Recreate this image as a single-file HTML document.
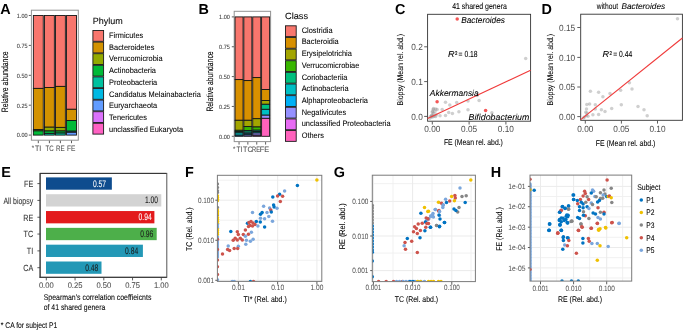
<!DOCTYPE html>
<html><head><meta charset="utf-8"><style>
html,body{margin:0;padding:0;background:#fff;}
body{width:685px;height:331px;overflow:hidden;}
svg{display:block;font-family:"Liberation Sans",sans-serif;will-change:transform;text-rendering:geometricPrecision;}
</style></head><body>
<svg width="685" height="331" viewBox="0 0 685 331">
<rect width="685" height="331" fill="#fff"/>
<text x="0.20" y="13.80" font-size="14.40" fill="#000" font-weight="bold" textLength="10.40" lengthAdjust="spacingAndGlyphs" >A</text>
<text x="198.60" y="14.00" font-size="14.40" fill="#000" font-weight="bold" textLength="10.40" lengthAdjust="spacingAndGlyphs" >B</text>
<text x="395.00" y="14.10" font-size="14.40" fill="#000" font-weight="bold" textLength="10.40" lengthAdjust="spacingAndGlyphs" >C</text>
<text x="541.60" y="13.80" font-size="14.40" fill="#000" font-weight="bold" textLength="10.40" lengthAdjust="spacingAndGlyphs" >D</text>
<text x="1.30" y="176.90" font-size="14.40" fill="#000" font-weight="bold" textLength="9.61" lengthAdjust="spacingAndGlyphs" >E</text>
<text x="185.10" y="176.90" font-size="14.40" fill="#000" font-weight="bold" textLength="8.80" lengthAdjust="spacingAndGlyphs" >F</text>
<text x="333.80" y="176.90" font-size="14.40" fill="#000" font-weight="bold" textLength="11.20" lengthAdjust="spacingAndGlyphs" >G</text>
<text x="490.70" y="176.90" font-size="14.40" fill="#000" font-weight="bold" textLength="10.40" lengthAdjust="spacingAndGlyphs" >H</text>
<rect x="31.40" y="10.20" width="46.90" height="130.00" fill="none" stroke="#929292" stroke-width="1.0" />
<line x1="28.80" y1="135.10" x2="30.90" y2="135.10" stroke="#333" stroke-width="0.8" />
<text x="27.50" y="137.40" font-size="6.16" fill="#404040" stroke="#404040" stroke-width="0.1" text-anchor="end" textLength="10.70" lengthAdjust="spacingAndGlyphs" >0.00</text>
<line x1="28.80" y1="105.20" x2="30.90" y2="105.20" stroke="#333" stroke-width="0.8" />
<text x="27.50" y="107.50" font-size="6.16" fill="#404040" stroke="#404040" stroke-width="0.1" text-anchor="end" textLength="10.70" lengthAdjust="spacingAndGlyphs" >0.25</text>
<line x1="28.80" y1="75.30" x2="30.90" y2="75.30" stroke="#333" stroke-width="0.8" />
<text x="27.50" y="77.60" font-size="6.16" fill="#404040" stroke="#404040" stroke-width="0.1" text-anchor="end" textLength="10.70" lengthAdjust="spacingAndGlyphs" >0.50</text>
<line x1="28.80" y1="45.40" x2="30.90" y2="45.40" stroke="#333" stroke-width="0.8" />
<text x="27.50" y="47.70" font-size="6.16" fill="#404040" stroke="#404040" stroke-width="0.1" text-anchor="end" textLength="10.70" lengthAdjust="spacingAndGlyphs" >0.75</text>
<line x1="28.80" y1="15.50" x2="30.90" y2="15.50" stroke="#333" stroke-width="0.8" />
<text x="27.50" y="17.80" font-size="6.16" fill="#404040" stroke="#404040" stroke-width="0.1" text-anchor="end" textLength="10.70" lengthAdjust="spacingAndGlyphs" >1.00</text>
<rect x="33.35" y="15.50" width="9.90" height="72.90" fill="#F8766D" stroke="#151515" stroke-width="0.9" />
<rect x="33.35" y="88.40" width="9.90" height="41.20" fill="#D39200" stroke="#151515" stroke-width="0.9" />
<rect x="33.35" y="129.60" width="9.90" height="1.30" fill="#93AA00" stroke="#151515" stroke-width="0.9" />
<rect x="33.35" y="130.90" width="9.90" height="4.20" fill="#00BA38" stroke="#151515" stroke-width="0.9" />
<rect x="44.45" y="15.50" width="9.90" height="72.00" fill="#F8766D" stroke="#151515" stroke-width="0.9" />
<rect x="44.45" y="87.50" width="9.90" height="39.70" fill="#D39200" stroke="#151515" stroke-width="0.9" />
<rect x="44.45" y="127.20" width="9.90" height="3.80" fill="#93AA00" stroke="#151515" stroke-width="0.9" />
<rect x="44.45" y="131.00" width="9.90" height="2.40" fill="#00BA38" stroke="#151515" stroke-width="0.9" />
<rect x="44.45" y="133.40" width="9.90" height="1.70" fill="#00C19F" stroke="#151515" stroke-width="0.9" />
<rect x="55.45" y="15.50" width="9.90" height="70.90" fill="#F8766D" stroke="#151515" stroke-width="0.9" />
<rect x="55.45" y="86.40" width="9.90" height="41.00" fill="#D39200" stroke="#151515" stroke-width="0.9" />
<rect x="55.45" y="127.40" width="9.90" height="3.60" fill="#93AA00" stroke="#151515" stroke-width="0.9" />
<rect x="55.45" y="131.00" width="9.90" height="2.10" fill="#00BA38" stroke="#151515" stroke-width="0.9" />
<rect x="55.45" y="133.10" width="9.90" height="2.00" fill="#00C19F" stroke="#151515" stroke-width="0.9" />
<rect x="66.55" y="15.50" width="9.90" height="93.80" fill="#F8766D" stroke="#151515" stroke-width="0.9" />
<rect x="66.55" y="109.30" width="9.90" height="11.20" fill="#D39200" stroke="#151515" stroke-width="0.9" />
<rect x="66.55" y="120.50" width="9.90" height="10.70" fill="#00BA38" stroke="#151515" stroke-width="0.9" />
<rect x="66.55" y="131.20" width="9.90" height="1.10" fill="#00C19F" stroke="#151515" stroke-width="0.9" />
<rect x="66.55" y="132.30" width="9.90" height="2.80" fill="#619CFF" stroke="#151515" stroke-width="0.9" />
<line x1="38.30" y1="140.70" x2="38.30" y2="143.20" stroke="#333" stroke-width="0.8" />
<line x1="49.40" y1="140.70" x2="49.40" y2="143.20" stroke="#333" stroke-width="0.8" />
<line x1="60.40" y1="140.70" x2="60.40" y2="143.20" stroke="#333" stroke-width="0.8" />
<line x1="71.50" y1="140.70" x2="71.50" y2="143.20" stroke="#333" stroke-width="0.8" />
<text x="31.80" y="150.20" font-size="6.48" fill="#4D4D4D" stroke="#4D4D4D" stroke-width="0.07" textLength="2.33" lengthAdjust="spacingAndGlyphs" >*</text>
<text x="38.20" y="150.50" font-size="7.88" fill="#4D4D4D" stroke="#4D4D4D" stroke-width="0.07" text-anchor="middle" textLength="6.20" lengthAdjust="spacingAndGlyphs" >TI</text>
<text x="49.55" y="150.50" font-size="7.88" fill="#4D4D4D" stroke="#4D4D4D" stroke-width="0.07" text-anchor="middle" textLength="8.10" lengthAdjust="spacingAndGlyphs" >TC</text>
<text x="60.35" y="150.50" font-size="7.88" fill="#4D4D4D" stroke="#4D4D4D" stroke-width="0.07" text-anchor="middle" textLength="8.70" lengthAdjust="spacingAndGlyphs" >RE</text>
<text x="71.20" y="150.50" font-size="7.88" fill="#4D4D4D" stroke="#4D4D4D" stroke-width="0.07" text-anchor="middle" textLength="8.40" lengthAdjust="spacingAndGlyphs" >FE</text>
<text transform="translate(7.50,112.30) rotate(-90)" font-size="9.36" fill="#000" stroke="#000" stroke-width="0.1" textLength="61.00" lengthAdjust="spacingAndGlyphs" >Relative abundance</text>
<text x="92.80" y="23.75" font-size="9.00" fill="#000" stroke="#000" stroke-width="0.07" textLength="30.00" lengthAdjust="spacingAndGlyphs" >Phylum</text>
<rect x="92.90" y="30.50" width="10.70" height="10.80" fill="#F8766D" stroke="#1A1A1A" stroke-width="0.9" />
<text x="109.10" y="38.00" font-size="7.99" fill="#000" stroke="#000" stroke-width="0.07" textLength="34.12" lengthAdjust="spacingAndGlyphs" >Firmicutes</text>
<rect x="92.90" y="42.10" width="10.70" height="10.80" fill="#D39200" stroke="#1A1A1A" stroke-width="0.9" />
<text x="109.10" y="49.72" font-size="7.99" fill="#000" stroke="#000" stroke-width="0.07" textLength="45.25" lengthAdjust="spacingAndGlyphs" >Bacteroidetes</text>
<rect x="92.90" y="53.70" width="10.70" height="10.80" fill="#93AA00" stroke="#1A1A1A" stroke-width="0.9" />
<text x="109.10" y="61.44" font-size="7.99" fill="#000" stroke="#000" stroke-width="0.07" textLength="53.47" lengthAdjust="spacingAndGlyphs" >Verrucomicrobia</text>
<rect x="92.90" y="65.30" width="10.70" height="10.80" fill="#00BA38" stroke="#1A1A1A" stroke-width="0.9" />
<text x="109.10" y="73.16" font-size="7.99" fill="#000" stroke="#000" stroke-width="0.07" textLength="46.89" lengthAdjust="spacingAndGlyphs" >Actinobacteria</text>
<rect x="92.90" y="76.90" width="10.70" height="10.80" fill="#00C19F" stroke="#1A1A1A" stroke-width="0.9" />
<text x="109.10" y="84.88" font-size="7.99" fill="#000" stroke="#000" stroke-width="0.07" textLength="48.13" lengthAdjust="spacingAndGlyphs" >Proteobacteria</text>
<rect x="92.90" y="88.50" width="10.70" height="10.80" fill="#00B9E3" stroke="#1A1A1A" stroke-width="0.9" />
<text x="109.10" y="96.60" font-size="7.99" fill="#000" stroke="#000" stroke-width="0.07" textLength="91.74" lengthAdjust="spacingAndGlyphs" >Candidatus Melainabacteria</text>
<rect x="92.90" y="100.10" width="10.70" height="10.80" fill="#619CFF" stroke="#1A1A1A" stroke-width="0.9" />
<text x="109.10" y="108.32" font-size="7.99" fill="#000" stroke="#000" stroke-width="0.07" textLength="48.13" lengthAdjust="spacingAndGlyphs" >Euryarchaeota</text>
<rect x="92.90" y="111.70" width="10.70" height="10.80" fill="#DB72FB" stroke="#1A1A1A" stroke-width="0.9" />
<text x="109.10" y="120.04" font-size="7.99" fill="#000" stroke="#000" stroke-width="0.07" textLength="37.84" lengthAdjust="spacingAndGlyphs" >Tenericutes</text>
<rect x="92.90" y="123.30" width="10.70" height="10.80" fill="#FF61C3" stroke="#1A1A1A" stroke-width="0.9" />
<text x="109.10" y="131.76" font-size="7.99" fill="#000" stroke="#000" stroke-width="0.07" textLength="74.04" lengthAdjust="spacingAndGlyphs" >unclassified Eukaryota</text>
<rect x="234.20" y="11.30" width="36.40" height="130.30" fill="none" stroke="#929292" stroke-width="1.0" />
<line x1="231.80" y1="136.30" x2="233.90" y2="136.30" stroke="#333" stroke-width="0.8" />
<text x="229.80" y="138.60" font-size="6.16" fill="#404040" stroke="#404040" stroke-width="0.1" text-anchor="end" textLength="10.70" lengthAdjust="spacingAndGlyphs" >0.00</text>
<line x1="231.80" y1="106.45" x2="233.90" y2="106.45" stroke="#333" stroke-width="0.8" />
<text x="229.80" y="108.75" font-size="6.16" fill="#404040" stroke="#404040" stroke-width="0.1" text-anchor="end" textLength="10.70" lengthAdjust="spacingAndGlyphs" >0.25</text>
<line x1="231.80" y1="76.60" x2="233.90" y2="76.60" stroke="#333" stroke-width="0.8" />
<text x="229.80" y="78.90" font-size="6.16" fill="#404040" stroke="#404040" stroke-width="0.1" text-anchor="end" textLength="10.70" lengthAdjust="spacingAndGlyphs" >0.50</text>
<line x1="231.80" y1="46.75" x2="233.90" y2="46.75" stroke="#333" stroke-width="0.8" />
<text x="229.80" y="49.05" font-size="6.16" fill="#404040" stroke="#404040" stroke-width="0.1" text-anchor="end" textLength="10.70" lengthAdjust="spacingAndGlyphs" >0.75</text>
<line x1="231.80" y1="16.90" x2="233.90" y2="16.90" stroke="#333" stroke-width="0.8" />
<text x="229.80" y="19.20" font-size="6.16" fill="#404040" stroke="#404040" stroke-width="0.1" text-anchor="end" textLength="10.70" lengthAdjust="spacingAndGlyphs" >1.00</text>
<rect x="235.05" y="16.90" width="8.00" height="62.70" fill="#F8766D" stroke="#151515" stroke-width="0.9" />
<rect x="235.05" y="79.60" width="8.00" height="40.70" fill="#D89000" stroke="#151515" stroke-width="0.9" />
<rect x="235.05" y="120.30" width="8.00" height="10.00" fill="#A3A500" stroke="#151515" stroke-width="0.9" />
<rect x="235.05" y="130.30" width="8.00" height="1.30" fill="#39B600" stroke="#151515" stroke-width="0.9" />
<rect x="235.05" y="131.60" width="8.00" height="1.30" fill="#00BF7D" stroke="#151515" stroke-width="0.9" />
<rect x="235.05" y="132.90" width="8.00" height="2.30" fill="#00BFC4" stroke="#151515" stroke-width="0.9" />
<rect x="235.05" y="135.20" width="8.00" height="1.10" fill="#00B0F6" stroke="#151515" stroke-width="0.9" />
<rect x="243.85" y="16.90" width="8.00" height="63.70" fill="#F8766D" stroke="#151515" stroke-width="0.9" />
<rect x="243.85" y="80.60" width="8.00" height="39.70" fill="#D89000" stroke="#151515" stroke-width="0.9" />
<rect x="243.85" y="120.30" width="8.00" height="6.30" fill="#A3A500" stroke="#151515" stroke-width="0.9" />
<rect x="243.85" y="126.60" width="8.00" height="4.00" fill="#39B600" stroke="#151515" stroke-width="0.9" />
<rect x="243.85" y="130.60" width="8.00" height="1.60" fill="#00BF7D" stroke="#151515" stroke-width="0.9" />
<rect x="243.85" y="132.20" width="8.00" height="1.60" fill="#00BFC4" stroke="#151515" stroke-width="0.9" />
<rect x="243.85" y="133.80" width="8.00" height="1.20" fill="#00B0F6" stroke="#151515" stroke-width="0.9" />
<rect x="243.85" y="135.00" width="8.00" height="1.30" fill="#9590FF" stroke="#151515" stroke-width="0.9" />
<rect x="252.75" y="16.90" width="8.00" height="60.70" fill="#F8766D" stroke="#151515" stroke-width="0.9" />
<rect x="252.75" y="77.60" width="8.00" height="41.10" fill="#D89000" stroke="#151515" stroke-width="0.9" />
<rect x="252.75" y="118.70" width="8.00" height="8.30" fill="#A3A500" stroke="#151515" stroke-width="0.9" />
<rect x="252.75" y="127.00" width="8.00" height="3.20" fill="#39B600" stroke="#151515" stroke-width="0.9" />
<rect x="252.75" y="130.20" width="8.00" height="1.40" fill="#00BF7D" stroke="#151515" stroke-width="0.9" />
<rect x="252.75" y="131.60" width="8.00" height="1.40" fill="#00BFC4" stroke="#151515" stroke-width="0.9" />
<rect x="252.75" y="133.00" width="8.00" height="2.20" fill="#9590FF" stroke="#151515" stroke-width="0.9" />
<rect x="252.75" y="135.20" width="8.00" height="1.10" fill="#E76BF3" stroke="#151515" stroke-width="0.9" />
<rect x="261.60" y="16.90" width="8.00" height="72.60" fill="#F8766D" stroke="#151515" stroke-width="0.9" />
<rect x="261.60" y="89.50" width="8.00" height="11.00" fill="#D89000" stroke="#151515" stroke-width="0.9" />
<rect x="261.60" y="100.50" width="8.00" height="3.80" fill="#A3A500" stroke="#151515" stroke-width="0.9" />
<rect x="261.60" y="104.30" width="8.00" height="5.05" fill="#00BF7D" stroke="#151515" stroke-width="0.9" />
<rect x="261.60" y="109.35" width="8.00" height="5.85" fill="#00BFC4" stroke="#151515" stroke-width="0.9" />
<rect x="261.60" y="115.20" width="8.00" height="3.15" fill="#9590FF" stroke="#151515" stroke-width="0.9" />
<rect x="261.60" y="118.35" width="8.00" height="17.95" fill="#FF62BC" stroke="#151515" stroke-width="0.9" />
<line x1="239.05" y1="142.10" x2="239.05" y2="144.60" stroke="#333" stroke-width="0.8" />
<line x1="247.85" y1="142.10" x2="247.85" y2="144.60" stroke="#333" stroke-width="0.8" />
<line x1="256.75" y1="142.10" x2="256.75" y2="144.60" stroke="#333" stroke-width="0.8" />
<line x1="265.60" y1="142.10" x2="265.60" y2="144.60" stroke="#333" stroke-width="0.8" />
<text x="233.00" y="150.60" font-size="6.48" fill="#4D4D4D" stroke="#4D4D4D" stroke-width="0.07" textLength="2.33" lengthAdjust="spacingAndGlyphs" >*</text>
<text x="239.50" y="151.50" font-size="7.88" fill="#4D4D4D" stroke="#4D4D4D" stroke-width="0.07" text-anchor="middle" textLength="5.80" lengthAdjust="spacingAndGlyphs" >TI</text>
<text x="247.80" y="151.50" font-size="7.88" fill="#4D4D4D" stroke="#4D4D4D" stroke-width="0.07" text-anchor="middle" textLength="9.40" lengthAdjust="spacingAndGlyphs" >TC</text>
<text x="256.10" y="151.50" font-size="7.88" fill="#4D4D4D" stroke="#4D4D4D" stroke-width="0.07" text-anchor="middle" textLength="8.00" lengthAdjust="spacingAndGlyphs" >RE</text>
<text x="264.40" y="151.50" font-size="7.88" fill="#4D4D4D" stroke="#4D4D4D" stroke-width="0.07" text-anchor="middle" textLength="9.40" lengthAdjust="spacingAndGlyphs" >FE</text>
<text transform="translate(213.20,111.60) rotate(-90)" font-size="9.36" fill="#000" stroke="#000" stroke-width="0.1" textLength="60.20" lengthAdjust="spacingAndGlyphs" >Relative abundance</text>
<text x="285.00" y="19.00" font-size="9.00" fill="#000" stroke="#000" stroke-width="0.07" textLength="23.10" lengthAdjust="spacingAndGlyphs" >Class</text>
<rect x="285.50" y="25.80" width="10.70" height="10.80" fill="#F8766D" stroke="#1A1A1A" stroke-width="0.9" />
<text x="301.70" y="32.70" font-size="7.99" fill="#000" stroke="#000" stroke-width="0.07" textLength="30.84" lengthAdjust="spacingAndGlyphs" >Clostridia</text>
<rect x="285.50" y="37.44" width="10.70" height="10.80" fill="#D89000" stroke="#1A1A1A" stroke-width="0.9" />
<text x="301.70" y="44.41" font-size="7.99" fill="#000" stroke="#000" stroke-width="0.07" textLength="37.02" lengthAdjust="spacingAndGlyphs" >Bacteroidia</text>
<rect x="285.50" y="49.08" width="10.70" height="10.80" fill="#A3A500" stroke="#1A1A1A" stroke-width="0.9" />
<text x="301.70" y="56.12" font-size="7.99" fill="#000" stroke="#000" stroke-width="0.07" textLength="50.18" lengthAdjust="spacingAndGlyphs" >Erysipelotrichia</text>
<rect x="285.50" y="60.72" width="10.70" height="10.80" fill="#39B600" stroke="#1A1A1A" stroke-width="0.9" />
<text x="301.70" y="67.83" font-size="7.99" fill="#000" stroke="#000" stroke-width="0.07" textLength="57.58" lengthAdjust="spacingAndGlyphs" >Verrucomicrobiae</text>
<rect x="285.50" y="72.36" width="10.70" height="10.80" fill="#00BF7D" stroke="#1A1A1A" stroke-width="0.9" />
<text x="301.70" y="79.54" font-size="7.99" fill="#000" stroke="#000" stroke-width="0.07" textLength="45.66" lengthAdjust="spacingAndGlyphs" >Coriobacteriia</text>
<rect x="285.50" y="84.00" width="10.70" height="10.80" fill="#00BFC4" stroke="#1A1A1A" stroke-width="0.9" />
<text x="301.70" y="91.25" font-size="7.99" fill="#000" stroke="#000" stroke-width="0.07" textLength="46.89" lengthAdjust="spacingAndGlyphs" >Actinobacteria</text>
<rect x="285.50" y="95.64" width="10.70" height="10.80" fill="#00B0F6" stroke="#1A1A1A" stroke-width="0.9" />
<text x="301.70" y="102.96" font-size="7.99" fill="#000" stroke="#000" stroke-width="0.07" textLength="66.24" lengthAdjust="spacingAndGlyphs" >Alphaproteobacteria</text>
<rect x="285.50" y="107.28" width="10.70" height="10.80" fill="#9590FF" stroke="#1A1A1A" stroke-width="0.9" />
<text x="301.70" y="114.67" font-size="7.99" fill="#000" stroke="#000" stroke-width="0.07" textLength="44.42" lengthAdjust="spacingAndGlyphs" >Negativicutes</text>
<rect x="285.50" y="118.92" width="10.70" height="10.80" fill="#E76BF3" stroke="#1A1A1A" stroke-width="0.9" />
<text x="301.70" y="126.38" font-size="7.99" fill="#000" stroke="#000" stroke-width="0.07" textLength="88.85" lengthAdjust="spacingAndGlyphs" >unclassified Proteobacteria</text>
<rect x="285.50" y="130.56" width="10.70" height="10.80" fill="#FF62BC" stroke="#1A1A1A" stroke-width="0.9" />
<text x="301.70" y="138.09" font-size="7.99" fill="#000" stroke="#000" stroke-width="0.07" textLength="22.21" lengthAdjust="spacingAndGlyphs" >Others</text>
<rect x="427.60" y="14.30" width="103.00" height="106.90" fill="none" stroke="#333" stroke-width="0.9" />
<line x1="424.20" y1="116.40" x2="427.20" y2="116.40" stroke="#333" stroke-width="0.8" />
<text x="422.80" y="119.70" font-size="8.96" fill="#4D4D4D" text-anchor="end" textLength="11.54" lengthAdjust="spacingAndGlyphs" >0.0</text>
<line x1="424.20" y1="81.60" x2="427.20" y2="81.60" stroke="#333" stroke-width="0.8" />
<text x="422.80" y="84.90" font-size="8.96" fill="#4D4D4D" text-anchor="end" textLength="11.54" lengthAdjust="spacingAndGlyphs" >0.1</text>
<line x1="424.20" y1="46.80" x2="427.20" y2="46.80" stroke="#333" stroke-width="0.8" />
<text x="422.80" y="50.10" font-size="8.96" fill="#4D4D4D" text-anchor="end" textLength="11.54" lengthAdjust="spacingAndGlyphs" >0.2</text>
<line x1="432.30" y1="121.70" x2="432.30" y2="124.50" stroke="#333" stroke-width="0.8" />
<text x="432.30" y="132.30" font-size="8.96" fill="#4D4D4D" text-anchor="middle" textLength="16.15" lengthAdjust="spacingAndGlyphs" >0.00</text>
<line x1="469.10" y1="121.70" x2="469.10" y2="124.50" stroke="#333" stroke-width="0.8" />
<text x="469.10" y="132.30" font-size="8.96" fill="#4D4D4D" text-anchor="middle" textLength="16.15" lengthAdjust="spacingAndGlyphs" >0.05</text>
<line x1="505.90" y1="121.70" x2="505.90" y2="124.50" stroke="#333" stroke-width="0.8" />
<text x="505.90" y="132.30" font-size="8.96" fill="#4D4D4D" text-anchor="middle" textLength="16.15" lengthAdjust="spacingAndGlyphs" >0.10</text>
<text x="479.50" y="8.60" font-size="8.51" fill="#000" stroke="#000" stroke-width="0.07" text-anchor="middle" textLength="54.70" lengthAdjust="spacingAndGlyphs" >41 shared genera</text>
<text x="443.90" y="145.30" font-size="8.36" fill="#000" stroke="#000" stroke-width="0.07" textLength="59.00" lengthAdjust="spacingAndGlyphs" >FE (Mean rel. abd.)</text>
<text transform="translate(403.40,105.40) rotate(-90)" font-size="8.36" fill="#000" stroke="#000" stroke-width="0.07" textLength="71.40" lengthAdjust="spacingAndGlyphs" >Biopsy (Mean rel. abd.)</text>
<circle cx="433.50" cy="108.50" r="1.75" fill="rgba(140,140,140,0.42)" />
<circle cx="432.50" cy="111.20" r="1.75" fill="rgba(140,140,140,0.42)" />
<circle cx="431.60" cy="115.60" r="1.75" fill="rgba(140,140,140,0.42)" />
<circle cx="435.60" cy="116.60" r="1.75" fill="rgba(140,140,140,0.42)" />
<circle cx="429.80" cy="118.20" r="1.75" fill="rgba(140,140,140,0.42)" />
<circle cx="445.50" cy="102.30" r="1.75" fill="rgba(140,140,140,0.42)" />
<circle cx="449.80" cy="104.90" r="1.75" fill="rgba(140,140,140,0.42)" />
<circle cx="456.70" cy="102.50" r="1.75" fill="rgba(140,140,140,0.42)" />
<circle cx="458.90" cy="111.80" r="1.75" fill="rgba(140,140,140,0.42)" />
<circle cx="448.70" cy="112.50" r="1.75" fill="rgba(140,140,140,0.42)" />
<circle cx="452.40" cy="113.60" r="1.75" fill="rgba(140,140,140,0.42)" />
<circle cx="445.50" cy="115.40" r="1.75" fill="rgba(140,140,140,0.42)" />
<circle cx="440.00" cy="115.80" r="1.75" fill="rgba(140,140,140,0.42)" />
<circle cx="442.20" cy="109.60" r="1.75" fill="rgba(140,140,140,0.42)" />
<circle cx="433.20" cy="109.60" r="1.75" fill="rgba(140,140,140,0.42)" />
<circle cx="435.70" cy="108.90" r="1.75" fill="rgba(140,140,140,0.42)" />
<circle cx="437.10" cy="109.60" r="1.75" fill="rgba(140,140,140,0.42)" />
<circle cx="432.40" cy="112.50" r="1.75" fill="rgba(140,140,140,0.42)" />
<circle cx="432.10" cy="115.40" r="1.75" fill="rgba(140,140,140,0.42)" />
<circle cx="434.20" cy="116.10" r="1.75" fill="rgba(140,140,140,0.42)" />
<circle cx="436.40" cy="114.70" r="1.75" fill="rgba(140,140,140,0.42)" />
<circle cx="433.50" cy="113.50" r="1.75" fill="rgba(140,140,140,0.42)" />
<circle cx="435.00" cy="111.50" r="1.75" fill="rgba(140,140,140,0.42)" />
<circle cx="431.80" cy="117.00" r="1.75" fill="rgba(140,140,140,0.42)" />
<circle cx="430.50" cy="116.50" r="1.75" fill="rgba(140,140,140,0.42)" />
<circle cx="433.00" cy="116.80" r="1.75" fill="rgba(140,140,140,0.42)" />
<circle cx="468.00" cy="101.10" r="1.75" fill="rgba(140,140,140,0.42)" />
<circle cx="468.00" cy="109.80" r="1.75" fill="rgba(140,140,140,0.42)" />
<circle cx="477.10" cy="95.50" r="1.75" fill="rgba(140,140,140,0.42)" />
<circle cx="479.10" cy="100.50" r="1.75" fill="rgba(140,140,140,0.42)" />
<circle cx="491.90" cy="112.70" r="1.75" fill="rgba(140,140,140,0.42)" />
<circle cx="525.70" cy="58.60" r="1.75" fill="rgba(140,140,140,0.42)" />
<line x1="427.60" y1="118.60" x2="530.60" y2="70.20" stroke="#F03A3A" stroke-width="1.1" />
<circle cx="437.10" cy="101.80" r="1.75" fill="#F45656" />
<circle cx="485.60" cy="110.60" r="1.75" fill="#F45656" />
<circle cx="457.20" cy="19.00" r="1.75" fill="#F45656" />
<text x="461.20" y="22.60" font-size="8.64" fill="#000" stroke="#000" stroke-width="0.07" font-style="italic" textLength="43.80" lengthAdjust="spacingAndGlyphs" >Bacteroides</text>
<text x="429.80" y="96.40" font-size="8.64" fill="#000" stroke="#000" stroke-width="0.07" font-style="italic" textLength="48.90" lengthAdjust="spacingAndGlyphs" >Akkermansia</text>
<text x="468.50" y="119.60" font-size="8.64" fill="#000" stroke="#000" stroke-width="0.07" font-style="italic" textLength="60.90" lengthAdjust="spacingAndGlyphs" >Bifidobacterium</text>
<text x="448.00" y="57.00" font-size="8.74" fill="#000" stroke="#000" stroke-width="0.07" font-style="italic" textLength="6.60" lengthAdjust="spacingAndGlyphs" >R</text>
<text x="454.90" y="54.80" font-size="5.28" fill="#000" stroke="#000" stroke-width="0.15" textLength="2.40" lengthAdjust="spacingAndGlyphs" >2</text>
<text x="458.60" y="57.00" font-size="8.74" fill="#000" stroke="#000" stroke-width="0.07" textLength="19.00" lengthAdjust="spacingAndGlyphs" >= 0.18</text>
<rect x="580.70" y="14.20" width="101.70" height="106.10" fill="none" stroke="#333" stroke-width="0.9" />
<line x1="577.30" y1="116.60" x2="580.30" y2="116.60" stroke="#333" stroke-width="0.8" />
<text x="575.20" y="120.00" font-size="8.96" fill="#4D4D4D" text-anchor="end" textLength="16.15" lengthAdjust="spacingAndGlyphs" >0.00</text>
<line x1="577.30" y1="87.00" x2="580.30" y2="87.00" stroke="#333" stroke-width="0.8" />
<text x="575.20" y="90.40" font-size="8.96" fill="#4D4D4D" text-anchor="end" textLength="16.15" lengthAdjust="spacingAndGlyphs" >0.05</text>
<line x1="577.30" y1="57.40" x2="580.30" y2="57.40" stroke="#333" stroke-width="0.8" />
<text x="575.20" y="60.80" font-size="8.96" fill="#4D4D4D" text-anchor="end" textLength="16.15" lengthAdjust="spacingAndGlyphs" >0.10</text>
<line x1="577.30" y1="27.50" x2="580.30" y2="27.50" stroke="#333" stroke-width="0.8" />
<text x="575.20" y="30.90" font-size="8.96" fill="#4D4D4D" text-anchor="end" textLength="16.15" lengthAdjust="spacingAndGlyphs" >0.15</text>
<line x1="585.30" y1="120.70" x2="585.30" y2="123.60" stroke="#333" stroke-width="0.8" />
<text x="585.30" y="131.70" font-size="8.96" fill="#4D4D4D" text-anchor="middle" textLength="16.15" lengthAdjust="spacingAndGlyphs" >0.00</text>
<line x1="621.40" y1="120.70" x2="621.40" y2="123.60" stroke="#333" stroke-width="0.8" />
<text x="621.40" y="131.70" font-size="8.96" fill="#4D4D4D" text-anchor="middle" textLength="16.15" lengthAdjust="spacingAndGlyphs" >0.05</text>
<line x1="657.50" y1="120.70" x2="657.50" y2="123.60" stroke="#333" stroke-width="0.8" />
<text x="657.50" y="131.70" font-size="8.96" fill="#4D4D4D" text-anchor="middle" textLength="16.15" lengthAdjust="spacingAndGlyphs" >0.10</text>
<text x="596.80" y="8.60" font-size="8.51" fill="#000" stroke="#000" stroke-width="0.07" textLength="21.20" lengthAdjust="spacingAndGlyphs" >without</text>
<text x="621.40" y="8.60" font-size="8.29" fill="#000" stroke="#000" stroke-width="0.07" font-style="italic" textLength="43.80" lengthAdjust="spacingAndGlyphs" >Bacteroides</text>
<text x="595.80" y="145.60" font-size="8.36" fill="#000" stroke="#000" stroke-width="0.07" textLength="59.60" lengthAdjust="spacingAndGlyphs" >FE (Mean rel. abd.)</text>
<text transform="translate(552.60,105.40) rotate(-90)" font-size="8.36" fill="#000" stroke="#000" stroke-width="0.07" textLength="71.40" lengthAdjust="spacingAndGlyphs" >Biopsy (Mean rel. abd.)</text>
<circle cx="590.40" cy="91.30" r="1.75" fill="rgba(140,140,140,0.42)" />
<circle cx="598.60" cy="92.30" r="1.75" fill="rgba(140,140,140,0.42)" />
<circle cx="602.90" cy="96.70" r="1.75" fill="rgba(140,140,140,0.42)" />
<circle cx="610.00" cy="93.50" r="1.75" fill="rgba(140,140,140,0.42)" />
<circle cx="620.60" cy="90.20" r="1.75" fill="rgba(140,140,140,0.42)" />
<circle cx="629.40" cy="82.80" r="1.75" fill="rgba(140,140,140,0.42)" />
<circle cx="632.00" cy="88.90" r="1.75" fill="rgba(140,140,140,0.42)" />
<circle cx="586.80" cy="104.50" r="1.75" fill="rgba(140,140,140,0.42)" />
<circle cx="589.60" cy="104.10" r="1.75" fill="rgba(140,140,140,0.42)" />
<circle cx="595.30" cy="104.80" r="1.75" fill="rgba(140,140,140,0.42)" />
<circle cx="586.50" cy="109.00" r="1.75" fill="rgba(140,140,140,0.42)" />
<circle cx="595.30" cy="109.10" r="1.75" fill="rgba(140,140,140,0.42)" />
<circle cx="601.40" cy="109.80" r="1.75" fill="rgba(140,140,140,0.42)" />
<circle cx="605.00" cy="111.50" r="1.75" fill="rgba(140,140,140,0.42)" />
<circle cx="611.70" cy="108.40" r="1.75" fill="rgba(140,140,140,0.42)" />
<circle cx="621.30" cy="104.80" r="1.75" fill="rgba(140,140,140,0.42)" />
<circle cx="638.00" cy="106.50" r="1.75" fill="rgba(140,140,140,0.42)" />
<circle cx="644.00" cy="109.80" r="1.75" fill="rgba(140,140,140,0.42)" />
<circle cx="647.20" cy="115.80" r="1.75" fill="rgba(140,140,140,0.42)" />
<circle cx="585.80" cy="112.20" r="1.75" fill="rgba(140,140,140,0.42)" />
<circle cx="586.50" cy="115.50" r="1.75" fill="rgba(140,140,140,0.42)" />
<circle cx="592.90" cy="114.80" r="1.75" fill="rgba(140,140,140,0.42)" />
<circle cx="598.60" cy="114.50" r="1.75" fill="rgba(140,140,140,0.42)" />
<circle cx="588.00" cy="116.20" r="1.75" fill="rgba(140,140,140,0.42)" />
<circle cx="584.50" cy="117.00" r="1.75" fill="rgba(140,140,140,0.42)" />
<circle cx="583.50" cy="118.00" r="1.75" fill="rgba(140,140,140,0.42)" />
<circle cx="587.00" cy="113.00" r="1.75" fill="rgba(140,140,140,0.42)" />
<circle cx="677.50" cy="18.70" r="1.75" fill="rgba(140,140,140,0.42)" />
<line x1="580.70" y1="119.60" x2="682.40" y2="38.00" stroke="#F03A3A" stroke-width="1.1" />
<text x="602.60" y="57.00" font-size="8.74" fill="#000" stroke="#000" stroke-width="0.07" font-style="italic" textLength="6.60" lengthAdjust="spacingAndGlyphs" >R</text>
<text x="609.50" y="54.80" font-size="5.28" fill="#000" stroke="#000" stroke-width="0.15" textLength="2.40" lengthAdjust="spacingAndGlyphs" >2</text>
<text x="613.20" y="57.00" font-size="8.74" fill="#000" stroke="#000" stroke-width="0.07" textLength="19.00" lengthAdjust="spacingAndGlyphs" >= 0.44</text>
<rect x="40.10" y="173.40" width="126.70" height="103.90" fill="none" stroke="#555" stroke-width="1.0" />
<line x1="40.10" y1="173.40" x2="166.30" y2="173.40" stroke="#333" stroke-width="1.0" />
<line x1="40.10" y1="173.00" x2="40.10" y2="277.80" stroke="#333" stroke-width="1.0" />
<line x1="39.60" y1="277.30" x2="166.80" y2="277.30" stroke="#333" stroke-width="1.0" />
<rect x="46.00" y="177.40" width="65.85" height="12.30" fill="#0E4C8E" />
<line x1="37.40" y1="183.60" x2="40.10" y2="183.60" stroke="#333" stroke-width="0.8" />
<text x="33.20" y="187.00" font-size="9.00" fill="#333" stroke="#333" stroke-width="0.07" text-anchor="end" textLength="9.20" lengthAdjust="spacingAndGlyphs" >FE</text>
<text x="106.00" y="186.60" font-size="9.45" fill="#fff" stroke="#fff" stroke-width="0.07" text-anchor="end" textLength="13.10" lengthAdjust="spacingAndGlyphs" >0.57</text>
<rect x="46.00" y="194.22" width="115.30" height="12.30" fill="#D3D3D3" />
<line x1="37.40" y1="200.42" x2="40.10" y2="200.42" stroke="#333" stroke-width="0.8" />
<text x="33.20" y="203.82" font-size="9.00" fill="#333" stroke="#333" stroke-width="0.07" text-anchor="end" textLength="29.80" lengthAdjust="spacingAndGlyphs" >All biopsy</text>
<text x="158.10" y="203.42" font-size="9.45" fill="#1a1a1a" stroke="#1a1a1a" stroke-width="0.07" text-anchor="end" textLength="13.10" lengthAdjust="spacingAndGlyphs" >1.00</text>
<rect x="46.00" y="211.04" width="108.40" height="12.30" fill="#E31A1C" />
<line x1="37.40" y1="217.24" x2="40.10" y2="217.24" stroke="#333" stroke-width="0.8" />
<text x="33.20" y="220.64" font-size="9.00" fill="#333" stroke="#333" stroke-width="0.07" text-anchor="end" textLength="10.00" lengthAdjust="spacingAndGlyphs" >RE</text>
<text x="151.70" y="220.24" font-size="9.45" fill="#fff" stroke="#fff" stroke-width="0.07" text-anchor="end" textLength="13.10" lengthAdjust="spacingAndGlyphs" >0.94</text>
<rect x="46.00" y="227.86" width="110.70" height="12.30" fill="#4DAF4A" />
<line x1="37.40" y1="234.06" x2="40.10" y2="234.06" stroke="#333" stroke-width="0.8" />
<text x="33.20" y="237.46" font-size="9.00" fill="#333" stroke="#333" stroke-width="0.07" text-anchor="end" textLength="9.60" lengthAdjust="spacingAndGlyphs" >TC</text>
<text x="153.30" y="237.06" font-size="9.45" fill="#1a1a1a" stroke="#1a1a1a" stroke-width="0.07" text-anchor="end" textLength="13.10" lengthAdjust="spacingAndGlyphs" >0.96</text>
<rect x="46.00" y="244.68" width="96.90" height="12.30" fill="#2398B6" />
<line x1="37.40" y1="250.88" x2="40.10" y2="250.88" stroke="#333" stroke-width="0.8" />
<text x="33.20" y="254.28" font-size="9.00" fill="#333" stroke="#333" stroke-width="0.07" text-anchor="end" textLength="6.40" lengthAdjust="spacingAndGlyphs" >TI</text>
<text x="138.20" y="253.88" font-size="9.45" fill="#1a1a1a" stroke="#1a1a1a" stroke-width="0.07" text-anchor="end" textLength="13.10" lengthAdjust="spacingAndGlyphs" >0.84</text>
<rect x="46.00" y="261.50" width="55.50" height="12.30" fill="#2398B6" />
<line x1="37.40" y1="267.70" x2="40.10" y2="267.70" stroke="#333" stroke-width="0.8" />
<text x="33.20" y="271.10" font-size="9.00" fill="#333" stroke="#333" stroke-width="0.07" text-anchor="end" textLength="10.00" lengthAdjust="spacingAndGlyphs" >CA</text>
<text x="98.30" y="270.70" font-size="9.45" fill="#1a1a1a" stroke="#1a1a1a" stroke-width="0.07" text-anchor="end" textLength="13.10" lengthAdjust="spacingAndGlyphs" >0.48</text>
<line x1="46.30" y1="277.70" x2="46.30" y2="280.40" stroke="#333" stroke-width="0.8" />
<text x="46.30" y="287.60" font-size="8.21" fill="#4D4D4D" stroke="#4D4D4D" stroke-width="0.07" text-anchor="middle" textLength="14.80" lengthAdjust="spacingAndGlyphs" >0.00</text>
<line x1="75.05" y1="277.70" x2="75.05" y2="280.40" stroke="#333" stroke-width="0.8" />
<text x="75.05" y="287.60" font-size="8.21" fill="#4D4D4D" stroke="#4D4D4D" stroke-width="0.07" text-anchor="middle" textLength="14.80" lengthAdjust="spacingAndGlyphs" >0.25</text>
<line x1="103.80" y1="277.70" x2="103.80" y2="280.40" stroke="#333" stroke-width="0.8" />
<text x="103.80" y="287.60" font-size="8.21" fill="#4D4D4D" stroke="#4D4D4D" stroke-width="0.07" text-anchor="middle" textLength="14.80" lengthAdjust="spacingAndGlyphs" >0.50</text>
<line x1="132.55" y1="277.70" x2="132.55" y2="280.40" stroke="#333" stroke-width="0.8" />
<text x="132.55" y="287.60" font-size="8.21" fill="#4D4D4D" stroke="#4D4D4D" stroke-width="0.07" text-anchor="middle" textLength="14.80" lengthAdjust="spacingAndGlyphs" >0.75</text>
<line x1="161.30" y1="277.70" x2="161.30" y2="280.40" stroke="#333" stroke-width="0.8" />
<text x="161.30" y="287.60" font-size="8.21" fill="#4D4D4D" stroke="#4D4D4D" stroke-width="0.07" text-anchor="middle" textLength="14.80" lengthAdjust="spacingAndGlyphs" >1.00</text>
<text x="43.70" y="299.60" font-size="8.25" fill="#000" stroke="#000" stroke-width="0.07" textLength="107.70" lengthAdjust="spacingAndGlyphs" >Spearman's correlation coeffieicnts</text>
<text x="43.70" y="310.20" font-size="8.25" fill="#000" stroke="#000" stroke-width="0.07" textLength="61.60" lengthAdjust="spacingAndGlyphs" >of 41 shared genera</text>
<text x="0.80" y="328.20" font-size="8.25" fill="#000" stroke="#000" stroke-width="0.07" textLength="56.50" lengthAdjust="spacingAndGlyphs" >* CA for subject P1</text>
<rect x="217.40" y="175.30" width="104.40" height="106.10" fill="#fff" />
<line x1="258.00" y1="175.30" x2="258.00" y2="281.40" stroke="#EFEFEF" stroke-width="0.9" />
<line x1="297.30" y1="175.30" x2="297.30" y2="281.40" stroke="#EFEFEF" stroke-width="0.9" />
<line x1="217.40" y1="180.20" x2="321.80" y2="180.20" stroke="#EFEFEF" stroke-width="0.9" />
<line x1="217.40" y1="220.20" x2="321.80" y2="220.20" stroke="#EFEFEF" stroke-width="0.9" />
<line x1="217.40" y1="260.30" x2="321.80" y2="260.30" stroke="#EFEFEF" stroke-width="0.9" />
<line x1="238.40" y1="175.30" x2="238.40" y2="281.40" stroke="#EBEBEB" stroke-width="1.0" />
<line x1="277.65" y1="175.30" x2="277.65" y2="281.40" stroke="#EBEBEB" stroke-width="1.0" />
<line x1="316.90" y1="175.30" x2="316.90" y2="281.40" stroke="#EBEBEB" stroke-width="1.0" />
<line x1="217.40" y1="200.20" x2="321.80" y2="200.20" stroke="#EBEBEB" stroke-width="1.0" />
<line x1="217.40" y1="240.25" x2="321.80" y2="240.25" stroke="#EBEBEB" stroke-width="1.0" />
<line x1="217.40" y1="280.30" x2="321.80" y2="280.30" stroke="#EBEBEB" stroke-width="1.0" />
<defs><clipPath id="cf"><rect x="217.4" y="175.3" width="104.4" height="106.1"/></clipPath><clipPath id="cg"><rect x="372.3" y="175.2" width="103.1" height="106.4"/></clipPath><clipPath id="ch"><rect x="530.0" y="175.1" width="101.7" height="106.0"/></clipPath></defs>
<g clip-path="url(#cf)">
<circle cx="316.90" cy="180.00" r="1.75" fill="#EFC000" />
<circle cx="297.40" cy="185.50" r="1.75" fill="#0073C2" />
<circle cx="284.60" cy="191.00" r="1.75" fill="#7AA6DC" />
<circle cx="279.60" cy="194.30" r="1.75" fill="#0073C2" />
<circle cx="277.60" cy="196.00" r="1.75" fill="#CD534C" />
<circle cx="282.60" cy="196.30" r="1.75" fill="#CD534C" />
<circle cx="272.80" cy="197.10" r="1.75" fill="#0073C2" />
<circle cx="280.30" cy="201.60" r="1.75" fill="#CD534C" />
<circle cx="273.60" cy="205.00" r="1.75" fill="#0073C2" />
<circle cx="274.10" cy="207.10" r="1.75" fill="#0073C2" />
<circle cx="277.00" cy="208.30" r="1.75" fill="#7AA6DC" />
<circle cx="269.60" cy="207.90" r="1.75" fill="#7AA6DC" />
<circle cx="263.60" cy="206.30" r="1.75" fill="#7AA6DC" />
<circle cx="270.80" cy="210.00" r="1.75" fill="#CD534C" />
<circle cx="271.30" cy="212.10" r="1.75" fill="#0073C2" />
<circle cx="267.00" cy="212.60" r="1.75" fill="#7AA6DC" />
<circle cx="262.10" cy="212.60" r="1.75" fill="#0073C2" />
<circle cx="260.50" cy="214.30" r="1.75" fill="#0073C2" />
<circle cx="252.50" cy="212.60" r="1.75" fill="#7AA6DC" />
<circle cx="268.80" cy="216.60" r="1.75" fill="#7AA6DC" />
<circle cx="264.60" cy="218.80" r="1.75" fill="#7AA6DC" />
<circle cx="260.50" cy="218.30" r="1.75" fill="#7AA6DC" />
<circle cx="272.50" cy="221.30" r="1.75" fill="#7AA6DC" />
<circle cx="256.30" cy="221.60" r="1.75" fill="#0073C2" />
<circle cx="260.30" cy="222.10" r="1.75" fill="#0073C2" />
<circle cx="247.50" cy="223.20" r="1.75" fill="#0073C2" />
<circle cx="264.60" cy="227.10" r="1.75" fill="#0073C2" />
<circle cx="249.00" cy="222.50" r="1.75" fill="#CD534C" />
<circle cx="251.00" cy="221.50" r="1.75" fill="#CD534C" />
<circle cx="253.00" cy="223.00" r="1.75" fill="#CD534C" />
<circle cx="250.00" cy="225.50" r="1.75" fill="#CD534C" />
<circle cx="252.50" cy="226.00" r="1.75" fill="#CD534C" />
<circle cx="255.00" cy="224.50" r="1.75" fill="#CD534C" />
<circle cx="248.50" cy="226.50" r="1.75" fill="#CD534C" />
<circle cx="257.90" cy="226.10" r="1.75" fill="#7AA6DC" />
<circle cx="230.80" cy="231.60" r="1.75" fill="#0073C2" />
<circle cx="237.30" cy="231.80" r="1.75" fill="#CD534C" />
<circle cx="238.30" cy="234.60" r="1.75" fill="#CD534C" />
<circle cx="245.40" cy="230.10" r="1.75" fill="#CD534C" />
<circle cx="243.30" cy="234.60" r="1.75" fill="#CD534C" />
<circle cx="251.40" cy="232.20" r="1.75" fill="#7AA6DC" />
<circle cx="248.40" cy="234.20" r="1.75" fill="#CD534C" />
<circle cx="240.30" cy="238.20" r="1.75" fill="#CD534C" />
<circle cx="235.20" cy="238.20" r="1.75" fill="#CD534C" />
<circle cx="233.20" cy="240.30" r="1.75" fill="#CD534C" />
<circle cx="237.30" cy="239.90" r="1.75" fill="#CD534C" />
<circle cx="245.40" cy="236.20" r="1.75" fill="#7AA6DC" />
<circle cx="242.30" cy="239.90" r="1.75" fill="#CD534C" />
<circle cx="246.40" cy="240.30" r="1.75" fill="#7AA6DC" />
<circle cx="250.40" cy="241.30" r="1.75" fill="#7AA6DC" />
<circle cx="253.10" cy="239.30" r="1.75" fill="#7AA6DC" />
<circle cx="245.80" cy="244.30" r="1.75" fill="#7AA6DC" />
<circle cx="228.20" cy="245.90" r="1.75" fill="#7AA6DC" />
<circle cx="238.30" cy="246.30" r="1.75" fill="#7AA6DC" />
<circle cx="227.60" cy="249.40" r="1.75" fill="#CD534C" />
<circle cx="229.60" cy="250.40" r="1.75" fill="#CD534C" />
<circle cx="234.20" cy="248.40" r="1.75" fill="#CD534C" />
<circle cx="237.70" cy="248.40" r="1.75" fill="#CD534C" />
<circle cx="222.50" cy="254.00" r="1.75" fill="#CD534C" />
<circle cx="232.20" cy="281.40" r="1.75" fill="#7AA6DC" />
<circle cx="234.20" cy="281.40" r="1.75" fill="#7AA6DC" />
<circle cx="250.40" cy="281.40" r="1.75" fill="#0073C2" />
<circle cx="253.50" cy="281.40" r="1.75" fill="#CD534C" />
<circle cx="217.40" cy="184.10" r="1.75" fill="#868686" />
<circle cx="217.40" cy="187.50" r="1.75" fill="#868686" />
<circle cx="217.40" cy="190.80" r="1.75" fill="#868686" />
<circle cx="217.40" cy="192.40" r="1.75" fill="#868686" />
<circle cx="217.40" cy="207.40" r="1.75" fill="#868686" />
<circle cx="217.40" cy="214.90" r="1.75" fill="#868686" />
<circle cx="217.40" cy="195.80" r="1.75" fill="#EFC000" />
<circle cx="217.40" cy="197.50" r="1.75" fill="#EFC000" />
<circle cx="217.40" cy="199.20" r="1.75" fill="#EFC000" />
<circle cx="217.40" cy="200.70" r="1.75" fill="#EFC000" />
<circle cx="217.40" cy="209.90" r="1.75" fill="#EFC000" />
<circle cx="217.40" cy="211.50" r="1.75" fill="#EFC000" />
<circle cx="217.40" cy="213.00" r="1.75" fill="#EFC000" />
<circle cx="217.40" cy="214.00" r="1.75" fill="#EFC000" />
<circle cx="217.40" cy="217.40" r="1.75" fill="#EFC000" />
<circle cx="217.40" cy="219.30" r="1.75" fill="#EFC000" />
<circle cx="217.40" cy="221.20" r="1.75" fill="#EFC000" />
<circle cx="217.40" cy="223.20" r="1.75" fill="#EFC000" />
<circle cx="217.40" cy="228.50" r="1.75" fill="#EFC000" />
<circle cx="217.40" cy="230.50" r="1.75" fill="#EFC000" />
<circle cx="217.40" cy="232.50" r="1.75" fill="#EFC000" />
<circle cx="217.40" cy="234.50" r="1.75" fill="#EFC000" />
<circle cx="217.40" cy="224.80" r="1.75" fill="#7AA6DC" />
<circle cx="217.40" cy="227.00" r="1.75" fill="#7AA6DC" />
<circle cx="217.40" cy="237.00" r="1.75" fill="#7AA6DC" />
<circle cx="217.40" cy="239.00" r="1.75" fill="#7AA6DC" />
<circle cx="217.40" cy="241.00" r="1.75" fill="#7AA6DC" />
<circle cx="217.40" cy="243.00" r="1.75" fill="#7AA6DC" />
<circle cx="217.40" cy="245.00" r="1.75" fill="#7AA6DC" />
<circle cx="217.40" cy="247.00" r="1.75" fill="#7AA6DC" />
<circle cx="217.40" cy="249.00" r="1.75" fill="#7AA6DC" />
<circle cx="217.40" cy="251.00" r="1.75" fill="#7AA6DC" />
<circle cx="217.40" cy="253.00" r="1.75" fill="#7AA6DC" />
<circle cx="217.40" cy="255.00" r="1.75" fill="#7AA6DC" />
<circle cx="217.40" cy="257.00" r="1.75" fill="#7AA6DC" />
<circle cx="217.40" cy="279.70" r="1.75" fill="#7AA6DC" />
<circle cx="217.40" cy="239.20" r="1.75" fill="#CD534C" />
<circle cx="217.40" cy="249.60" r="1.75" fill="#CD534C" />
<circle cx="217.40" cy="259.90" r="1.75" fill="#CD534C" />
<circle cx="217.40" cy="266.80" r="1.75" fill="#CD534C" />
<circle cx="217.40" cy="274.60" r="1.75" fill="#CD534C" />
</g>
<rect x="217.40" y="175.30" width="104.40" height="106.10" fill="none" stroke="#7A7A7A" stroke-width="1.0" />
<line x1="215.30" y1="200.20" x2="217.20" y2="200.20" stroke="#333" stroke-width="0.8" />
<text x="214.00" y="202.80" font-size="7.78" fill="#4D4D4D" text-anchor="end" textLength="16.10" lengthAdjust="spacingAndGlyphs" >0.100</text>
<line x1="215.30" y1="240.25" x2="217.20" y2="240.25" stroke="#333" stroke-width="0.8" />
<text x="214.00" y="242.85" font-size="7.78" fill="#4D4D4D" text-anchor="end" textLength="16.10" lengthAdjust="spacingAndGlyphs" >0.010</text>
<line x1="215.30" y1="280.30" x2="217.20" y2="280.30" stroke="#333" stroke-width="0.8" />
<text x="214.00" y="282.90" font-size="7.78" fill="#4D4D4D" text-anchor="end" textLength="16.10" lengthAdjust="spacingAndGlyphs" >0.001</text>
<line x1="238.40" y1="281.80" x2="238.40" y2="284.60" stroke="#333" stroke-width="0.8" />
<text x="238.40" y="290.40" font-size="7.78" fill="#4D4D4D" text-anchor="middle" textLength="12.90" lengthAdjust="spacingAndGlyphs" >0.01</text>
<line x1="277.65" y1="281.80" x2="277.65" y2="284.60" stroke="#333" stroke-width="0.8" />
<text x="277.65" y="290.40" font-size="7.78" fill="#4D4D4D" text-anchor="middle" textLength="12.90" lengthAdjust="spacingAndGlyphs" >0.10</text>
<line x1="316.90" y1="281.80" x2="316.90" y2="284.60" stroke="#333" stroke-width="0.8" />
<text x="316.90" y="290.40" font-size="7.78" fill="#4D4D4D" text-anchor="middle" textLength="12.90" lengthAdjust="spacingAndGlyphs" >1.00</text>
<text x="243.60" y="302.00" font-size="8.36" fill="#000" stroke="#000" stroke-width="0.07" textLength="43.10" lengthAdjust="spacingAndGlyphs" >TI* (Rel. abd.)</text>
<text transform="translate(192.30,251.00) rotate(-90)" font-size="8.36" fill="#000" stroke="#000" stroke-width="0.07" textLength="43.50" lengthAdjust="spacingAndGlyphs" >TC (Rel. abd.)</text>
<rect x="372.30" y="175.20" width="103.10" height="106.40" fill="#fff" />
<line x1="393.00" y1="175.20" x2="393.00" y2="281.60" stroke="#EFEFEF" stroke-width="0.9" />
<line x1="432.00" y1="175.20" x2="432.00" y2="281.60" stroke="#EFEFEF" stroke-width="0.9" />
<line x1="471.00" y1="175.20" x2="471.00" y2="281.60" stroke="#EFEFEF" stroke-width="0.9" />
<line x1="372.30" y1="183.70" x2="475.40" y2="183.70" stroke="#EFEFEF" stroke-width="0.9" />
<line x1="372.30" y1="218.40" x2="475.40" y2="218.40" stroke="#EFEFEF" stroke-width="0.9" />
<line x1="372.30" y1="253.10" x2="475.40" y2="253.10" stroke="#EFEFEF" stroke-width="0.9" />
<line x1="373.40" y1="175.20" x2="373.40" y2="281.60" stroke="#EBEBEB" stroke-width="1.0" />
<line x1="412.60" y1="175.20" x2="412.60" y2="281.60" stroke="#EBEBEB" stroke-width="1.0" />
<line x1="451.80" y1="175.20" x2="451.80" y2="281.60" stroke="#EBEBEB" stroke-width="1.0" />
<line x1="372.30" y1="201.40" x2="475.40" y2="201.40" stroke="#EBEBEB" stroke-width="1.0" />
<line x1="372.30" y1="236.00" x2="475.40" y2="236.00" stroke="#EBEBEB" stroke-width="1.0" />
<line x1="372.30" y1="270.60" x2="475.40" y2="270.60" stroke="#EBEBEB" stroke-width="1.0" />
<g clip-path="url(#cg)">
<circle cx="438.50" cy="202.20" r="1.75" fill="#EFC000" />
<circle cx="424.50" cy="207.60" r="1.75" fill="#EFC000" />
<circle cx="428.50" cy="211.20" r="1.75" fill="#EFC000" />
<circle cx="420.90" cy="213.20" r="1.75" fill="#0073C2" />
<circle cx="435.20" cy="209.40" r="1.75" fill="#7AA6DC" />
<circle cx="438.50" cy="210.90" r="1.75" fill="#CD534C" />
<circle cx="443.00" cy="205.40" r="1.75" fill="#7AA6DC" />
<circle cx="433.00" cy="213.60" r="1.75" fill="#7AA6DC" />
<circle cx="431.20" cy="216.30" r="1.75" fill="#7AA6DC" />
<circle cx="440.00" cy="219.00" r="1.75" fill="#0073C2" />
<circle cx="439.40" cy="215.40" r="1.75" fill="#7AA6DC" />
<circle cx="426.20" cy="218.10" r="1.75" fill="#CD534C" />
<circle cx="428.50" cy="219.00" r="1.75" fill="#CD534C" />
<circle cx="426.70" cy="220.30" r="1.75" fill="#7AA6DC" />
<circle cx="425.40" cy="222.10" r="1.75" fill="#0073C2" />
<circle cx="422.20" cy="223.20" r="1.75" fill="#CD534C" />
<circle cx="418.20" cy="224.10" r="1.75" fill="#CD534C" />
<circle cx="428.50" cy="223.60" r="1.75" fill="#CD534C" />
<circle cx="436.70" cy="225.40" r="1.75" fill="#868686" />
<circle cx="439.40" cy="226.80" r="1.75" fill="#0073C2" />
<circle cx="430.30" cy="227.20" r="1.75" fill="#0073C2" />
<circle cx="425.80" cy="227.20" r="1.75" fill="#CD534C" />
<circle cx="414.60" cy="226.80" r="1.75" fill="#CD534C" />
<circle cx="416.40" cy="228.60" r="1.75" fill="#CD534C" />
<circle cx="420.40" cy="230.40" r="1.75" fill="#CD534C" />
<circle cx="424.90" cy="230.80" r="1.75" fill="#0073C2" />
<circle cx="413.50" cy="231.70" r="1.75" fill="#CD534C" />
<circle cx="417.30" cy="233.50" r="1.75" fill="#CD534C" />
<circle cx="420.00" cy="237.70" r="1.75" fill="#0073C2" />
<circle cx="407.30" cy="238.40" r="1.75" fill="#0073C2" />
<circle cx="411.70" cy="241.30" r="1.75" fill="#CD534C" />
<circle cx="405.00" cy="242.60" r="1.75" fill="#CD534C" />
<circle cx="404.10" cy="245.70" r="1.75" fill="#7AA6DC" />
<circle cx="405.50" cy="249.30" r="1.75" fill="#CD534C" />
<circle cx="417.30" cy="252.50" r="1.75" fill="#CD534C" />
<circle cx="444.30" cy="222.60" r="1.75" fill="#0073C2" />
<circle cx="470.80" cy="179.90" r="1.75" fill="#EFC000" />
<circle cx="460.00" cy="188.00" r="1.75" fill="#7AA6DC" />
<circle cx="454.90" cy="195.50" r="1.75" fill="#CD534C" />
<circle cx="455.30" cy="197.90" r="1.75" fill="#CD534C" />
<circle cx="462.00" cy="196.40" r="1.75" fill="#868686" />
<circle cx="466.20" cy="195.80" r="1.75" fill="#868686" />
<circle cx="451.60" cy="196.40" r="1.75" fill="#EFC000" />
<circle cx="454.40" cy="200.70" r="1.75" fill="#EFC000" />
<circle cx="449.70" cy="201.10" r="1.75" fill="#CD534C" />
<circle cx="445.60" cy="199.20" r="1.75" fill="#7AA6DC" />
<circle cx="446.50" cy="202.60" r="1.75" fill="#0073C2" />
<circle cx="465.20" cy="202.60" r="1.75" fill="#0073C2" />
<circle cx="441.50" cy="203.30" r="1.75" fill="#CD534C" />
<circle cx="443.30" cy="204.80" r="1.75" fill="#7AA6DC" />
<circle cx="442.80" cy="207.60" r="1.75" fill="#7AA6DC" />
<circle cx="459.00" cy="207.60" r="1.75" fill="#868686" />
<circle cx="454.00" cy="208.90" r="1.75" fill="#0073C2" />
<circle cx="457.70" cy="211.90" r="1.75" fill="#868686" />
<circle cx="455.90" cy="210.40" r="1.75" fill="#0073C2" />
<circle cx="427.80" cy="211.40" r="1.75" fill="#EFC000" />
<circle cx="435.30" cy="209.50" r="1.75" fill="#7AA6DC" />
<circle cx="439.00" cy="210.40" r="1.75" fill="#CD534C" />
<circle cx="439.60" cy="211.40" r="1.75" fill="#7AA6DC" />
<circle cx="432.50" cy="215.10" r="1.75" fill="#7AA6DC" />
<circle cx="430.60" cy="216.00" r="1.75" fill="#7AA6DC" />
<circle cx="433.40" cy="217.00" r="1.75" fill="#7AA6DC" />
<circle cx="428.70" cy="218.80" r="1.75" fill="#7AA6DC" />
<circle cx="439.00" cy="215.10" r="1.75" fill="#0073C2" />
<circle cx="427.80" cy="218.80" r="1.75" fill="#CD534C" />
<circle cx="426.90" cy="223.50" r="1.75" fill="#CD534C" />
<circle cx="444.60" cy="222.60" r="1.75" fill="#0073C2" />
<circle cx="436.60" cy="225.40" r="1.75" fill="#868686" />
<circle cx="439.60" cy="226.30" r="1.75" fill="#0073C2" />
<circle cx="430.60" cy="227.30" r="1.75" fill="#0073C2" />
<circle cx="372.30" cy="205.50" r="1.75" fill="#868686" />
<circle cx="372.30" cy="208.00" r="1.75" fill="#868686" />
<circle cx="372.30" cy="211.00" r="1.75" fill="#868686" />
<circle cx="372.30" cy="214.00" r="1.75" fill="#868686" />
<circle cx="372.30" cy="217.00" r="1.75" fill="#868686" />
<circle cx="372.30" cy="220.00" r="1.75" fill="#868686" />
<circle cx="372.30" cy="223.00" r="1.75" fill="#868686" />
<circle cx="372.30" cy="226.00" r="1.75" fill="#0073C2" />
<circle cx="372.30" cy="229.00" r="1.75" fill="#0073C2" />
<circle cx="372.30" cy="232.00" r="1.75" fill="#0073C2" />
<circle cx="372.30" cy="235.00" r="1.75" fill="#0073C2" />
<circle cx="372.30" cy="238.00" r="1.75" fill="#0073C2" />
<circle cx="372.30" cy="241.00" r="1.75" fill="#0073C2" />
<circle cx="372.30" cy="244.00" r="1.75" fill="#0073C2" />
<circle cx="372.30" cy="247.00" r="1.75" fill="#0073C2" />
<circle cx="372.30" cy="250.00" r="1.75" fill="#0073C2" />
<circle cx="372.30" cy="252.20" r="1.75" fill="#0073C2" />
<circle cx="372.30" cy="261.00" r="1.75" fill="#0073C2" />
<circle cx="372.30" cy="276.70" r="1.75" fill="#0073C2" />
<circle cx="378.60" cy="281.60" r="1.75" fill="#CD534C" />
<circle cx="386.20" cy="281.60" r="1.75" fill="#CD534C" />
<circle cx="393.50" cy="281.60" r="1.75" fill="#CD534C" />
<circle cx="402.30" cy="281.60" r="1.75" fill="#CD534C" />
<circle cx="396.50" cy="281.60" r="1.75" fill="#7AA6DC" />
<circle cx="399.50" cy="281.60" r="1.75" fill="#7AA6DC" />
<circle cx="403.00" cy="281.60" r="1.75" fill="#7AA6DC" />
<circle cx="406.00" cy="281.60" r="1.75" fill="#7AA6DC" />
<circle cx="409.00" cy="281.60" r="1.75" fill="#7AA6DC" />
<circle cx="412.00" cy="281.60" r="1.75" fill="#7AA6DC" />
<circle cx="415.00" cy="281.60" r="1.75" fill="#7AA6DC" />
<circle cx="418.00" cy="281.60" r="1.75" fill="#7AA6DC" />
<circle cx="421.00" cy="281.60" r="1.75" fill="#7AA6DC" />
<circle cx="424.50" cy="281.60" r="1.75" fill="#7AA6DC" />
<circle cx="410.00" cy="281.60" r="1.75" fill="#0073C2" />
<circle cx="413.00" cy="281.60" r="1.75" fill="#0073C2" />
<circle cx="417.50" cy="281.60" r="1.75" fill="#EFC000" />
<circle cx="420.50" cy="281.60" r="1.75" fill="#EFC000" />
<circle cx="428.50" cy="281.60" r="1.75" fill="#EFC000" />
<circle cx="431.00" cy="281.60" r="1.75" fill="#EFC000" />
<circle cx="433.50" cy="281.60" r="1.75" fill="#EFC000" />
<circle cx="438.50" cy="281.60" r="1.75" fill="#EFC000" />
<circle cx="441.00" cy="281.60" r="1.75" fill="#EFC000" />
</g>
<rect x="372.30" y="175.20" width="103.10" height="106.40" fill="none" stroke="#7A7A7A" stroke-width="1.0" />
<line x1="370.20" y1="201.40" x2="372.10" y2="201.40" stroke="#333" stroke-width="0.8" />
<text x="368.30" y="204.00" font-size="7.78" fill="#4D4D4D" text-anchor="end" textLength="16.10" lengthAdjust="spacingAndGlyphs" >0.100</text>
<line x1="370.20" y1="236.00" x2="372.10" y2="236.00" stroke="#333" stroke-width="0.8" />
<text x="368.30" y="238.60" font-size="7.78" fill="#4D4D4D" text-anchor="end" textLength="16.10" lengthAdjust="spacingAndGlyphs" >0.010</text>
<line x1="370.20" y1="270.60" x2="372.10" y2="270.60" stroke="#333" stroke-width="0.8" />
<text x="368.30" y="273.20" font-size="7.78" fill="#4D4D4D" text-anchor="end" textLength="16.10" lengthAdjust="spacingAndGlyphs" >0.001</text>
<line x1="373.40" y1="282.00" x2="373.40" y2="284.80" stroke="#333" stroke-width="0.8" />
<text x="373.40" y="290.40" font-size="7.78" fill="#4D4D4D" text-anchor="middle" textLength="15.80" lengthAdjust="spacingAndGlyphs" >0.001</text>
<line x1="412.60" y1="282.00" x2="412.60" y2="284.80" stroke="#333" stroke-width="0.8" />
<text x="412.60" y="290.40" font-size="7.78" fill="#4D4D4D" text-anchor="middle" textLength="15.80" lengthAdjust="spacingAndGlyphs" >0.010</text>
<line x1="451.80" y1="282.00" x2="451.80" y2="284.80" stroke="#333" stroke-width="0.8" />
<text x="451.80" y="290.40" font-size="7.78" fill="#4D4D4D" text-anchor="middle" textLength="15.80" lengthAdjust="spacingAndGlyphs" >0.100</text>
<text x="394.80" y="302.00" font-size="8.36" fill="#000" stroke="#000" stroke-width="0.07" textLength="43.30" lengthAdjust="spacingAndGlyphs" >TC (Rel. abd.)</text>
<text transform="translate(344.90,249.20) rotate(-90)" font-size="8.36" fill="#000" stroke="#000" stroke-width="0.07" textLength="46.00" lengthAdjust="spacingAndGlyphs" >RE (Rel. abd.)</text>
<rect x="530.00" y="175.10" width="101.70" height="106.00" fill="#fff" />
<line x1="556.70" y1="175.10" x2="556.70" y2="281.10" stroke="#EFEFEF" stroke-width="0.9" />
<line x1="589.60" y1="175.10" x2="589.60" y2="281.10" stroke="#EFEFEF" stroke-width="0.9" />
<line x1="622.60" y1="175.10" x2="622.60" y2="281.10" stroke="#EFEFEF" stroke-width="0.9" />
<line x1="530.00" y1="196.50" x2="631.70" y2="196.50" stroke="#EFEFEF" stroke-width="0.9" />
<line x1="530.00" y1="216.90" x2="631.70" y2="216.90" stroke="#EFEFEF" stroke-width="0.9" />
<line x1="530.00" y1="237.30" x2="631.70" y2="237.30" stroke="#EFEFEF" stroke-width="0.9" />
<line x1="530.00" y1="257.70" x2="631.70" y2="257.70" stroke="#EFEFEF" stroke-width="0.9" />
<line x1="530.00" y1="278.00" x2="631.70" y2="278.00" stroke="#EFEFEF" stroke-width="0.9" />
<line x1="540.50" y1="175.10" x2="540.50" y2="281.10" stroke="#EBEBEB" stroke-width="1.0" />
<line x1="573.60" y1="175.10" x2="573.60" y2="281.10" stroke="#EBEBEB" stroke-width="1.0" />
<line x1="606.70" y1="175.10" x2="606.70" y2="281.10" stroke="#EBEBEB" stroke-width="1.0" />
<line x1="530.00" y1="186.40" x2="631.70" y2="186.40" stroke="#EBEBEB" stroke-width="1.0" />
<line x1="530.00" y1="206.70" x2="631.70" y2="206.70" stroke="#EBEBEB" stroke-width="1.0" />
<line x1="530.00" y1="227.20" x2="631.70" y2="227.20" stroke="#EBEBEB" stroke-width="1.0" />
<line x1="530.00" y1="247.50" x2="631.70" y2="247.50" stroke="#EBEBEB" stroke-width="1.0" />
<line x1="530.00" y1="267.90" x2="631.70" y2="267.90" stroke="#EBEBEB" stroke-width="1.0" />
<g clip-path="url(#ch)">
<circle cx="534.20" cy="190.30" r="1.75" fill="#0073C2" />
<circle cx="573.60" cy="195.00" r="1.75" fill="#0073C2" />
<circle cx="573.60" cy="199.50" r="1.75" fill="#0073C2" />
<circle cx="562.60" cy="206.40" r="1.75" fill="#0073C2" />
<circle cx="568.50" cy="206.00" r="1.75" fill="#0073C2" />
<circle cx="568.50" cy="209.30" r="1.75" fill="#868686" />
<circle cx="561.30" cy="210.30" r="1.75" fill="#CD534C" />
<circle cx="559.90" cy="212.30" r="1.75" fill="#0073C2" />
<circle cx="565.20" cy="208.30" r="1.75" fill="#0073C2" />
<circle cx="561.30" cy="218.10" r="1.75" fill="#0073C2" />
<circle cx="566.20" cy="216.20" r="1.75" fill="#0073C2" />
<circle cx="568.10" cy="215.20" r="1.75" fill="#0073C2" />
<circle cx="559.30" cy="220.50" r="1.75" fill="#0073C2" />
<circle cx="564.20" cy="220.50" r="1.75" fill="#0073C2" />
<circle cx="571.70" cy="221.10" r="1.75" fill="#868686" />
<circle cx="567.20" cy="222.50" r="1.75" fill="#0073C2" />
<circle cx="559.90" cy="225.00" r="1.75" fill="#0073C2" />
<circle cx="549.50" cy="224.00" r="1.75" fill="#0073C2" />
<circle cx="548.90" cy="230.30" r="1.75" fill="#0073C2" />
<circle cx="561.30" cy="230.30" r="1.75" fill="#0073C2" />
<circle cx="557.70" cy="233.20" r="1.75" fill="#CD534C" />
<circle cx="563.20" cy="237.40" r="1.75" fill="#0073C2" />
<circle cx="568.10" cy="238.10" r="1.75" fill="#0073C2" />
<circle cx="607.10" cy="180.10" r="1.75" fill="#CD534C" />
<circle cx="611.20" cy="188.20" r="1.75" fill="#868686" />
<circle cx="604.00" cy="189.90" r="1.75" fill="#868686" />
<circle cx="592.50" cy="189.90" r="1.75" fill="#7AA6DC" />
<circle cx="593.60" cy="191.30" r="1.75" fill="#7AA6DC" />
<circle cx="584.60" cy="191.30" r="1.75" fill="#CD534C" />
<circle cx="585.30" cy="193.50" r="1.75" fill="#CD534C" />
<circle cx="591.30" cy="193.10" r="1.75" fill="#0073C2" />
<circle cx="600.40" cy="192.80" r="1.75" fill="#868686" />
<circle cx="604.90" cy="194.10" r="1.75" fill="#868686" />
<circle cx="603.10" cy="195.00" r="1.75" fill="#7AA6DC" />
<circle cx="606.70" cy="196.40" r="1.75" fill="#0073C2" />
<circle cx="608.20" cy="196.40" r="1.75" fill="#EFC000" />
<circle cx="609.40" cy="195.90" r="1.75" fill="#CD534C" />
<circle cx="611.20" cy="197.70" r="1.75" fill="#EFC000" />
<circle cx="573.10" cy="195.00" r="1.75" fill="#0073C2" />
<circle cx="573.70" cy="199.50" r="1.75" fill="#0073C2" />
<circle cx="583.10" cy="195.90" r="1.75" fill="#CD534C" />
<circle cx="580.40" cy="199.50" r="1.75" fill="#CD534C" />
<circle cx="577.30" cy="200.40" r="1.75" fill="#0073C2" />
<circle cx="588.60" cy="199.50" r="1.75" fill="#CD534C" />
<circle cx="587.10" cy="196.80" r="1.75" fill="#868686" />
<circle cx="594.90" cy="196.40" r="1.75" fill="#7AA6DC" />
<circle cx="596.20" cy="196.80" r="1.75" fill="#868686" />
<circle cx="600.40" cy="198.60" r="1.75" fill="#868686" />
<circle cx="602.70" cy="198.20" r="1.75" fill="#868686" />
<circle cx="597.60" cy="201.90" r="1.75" fill="#0073C2" />
<circle cx="599.40" cy="200.40" r="1.75" fill="#0073C2" />
<circle cx="611.80" cy="202.60" r="1.75" fill="#868686" />
<circle cx="581.30" cy="202.20" r="1.75" fill="#0073C2" />
<circle cx="577.70" cy="203.70" r="1.75" fill="#CD534C" />
<circle cx="583.10" cy="204.00" r="1.75" fill="#0073C2" />
<circle cx="585.80" cy="202.20" r="1.75" fill="#868686" />
<circle cx="591.30" cy="203.10" r="1.75" fill="#7AA6DC" />
<circle cx="592.50" cy="204.40" r="1.75" fill="#868686" />
<circle cx="562.20" cy="206.80" r="1.75" fill="#0073C2" />
<circle cx="568.60" cy="205.90" r="1.75" fill="#0073C2" />
<circle cx="565.00" cy="208.60" r="1.75" fill="#0073C2" />
<circle cx="568.60" cy="209.10" r="1.75" fill="#868686" />
<circle cx="561.00" cy="210.40" r="1.75" fill="#CD534C" />
<circle cx="559.50" cy="212.20" r="1.75" fill="#0073C2" />
<circle cx="579.50" cy="206.80" r="1.75" fill="#0073C2" />
<circle cx="583.10" cy="207.70" r="1.75" fill="#0073C2" />
<circle cx="587.10" cy="206.80" r="1.75" fill="#0073C2" />
<circle cx="588.90" cy="208.60" r="1.75" fill="#7AA6DC" />
<circle cx="579.50" cy="210.40" r="1.75" fill="#0073C2" />
<circle cx="598.00" cy="207.70" r="1.75" fill="#CD534C" />
<circle cx="583.50" cy="211.70" r="1.75" fill="#868686" />
<circle cx="593.10" cy="213.10" r="1.75" fill="#0073C2" />
<circle cx="595.50" cy="214.00" r="1.75" fill="#0073C2" />
<circle cx="600.40" cy="212.20" r="1.75" fill="#868686" />
<circle cx="604.00" cy="212.20" r="1.75" fill="#CD534C" />
<circle cx="604.00" cy="214.00" r="1.75" fill="#0073C2" />
<circle cx="566.80" cy="214.90" r="1.75" fill="#0073C2" />
<circle cx="563.10" cy="218.20" r="1.75" fill="#0073C2" />
<circle cx="559.50" cy="219.50" r="1.75" fill="#0073C2" />
<circle cx="565.90" cy="219.50" r="1.75" fill="#0073C2" />
<circle cx="567.70" cy="216.70" r="1.75" fill="#0073C2" />
<circle cx="561.30" cy="221.80" r="1.75" fill="#0073C2" />
<circle cx="567.70" cy="223.10" r="1.75" fill="#0073C2" />
<circle cx="571.90" cy="221.30" r="1.75" fill="#868686" />
<circle cx="577.70" cy="217.60" r="1.75" fill="#0073C2" />
<circle cx="579.50" cy="218.60" r="1.75" fill="#0073C2" />
<circle cx="585.30" cy="215.80" r="1.75" fill="#CD534C" />
<circle cx="583.50" cy="215.30" r="1.75" fill="#0073C2" />
<circle cx="588.90" cy="218.60" r="1.75" fill="#868686" />
<circle cx="598.00" cy="217.60" r="1.75" fill="#7AA6DC" />
<circle cx="600.40" cy="218.90" r="1.75" fill="#7AA6DC" />
<circle cx="612.20" cy="222.50" r="1.75" fill="#CD534C" />
<circle cx="619.00" cy="223.60" r="1.75" fill="#7AA6DC" />
<circle cx="597.30" cy="223.60" r="1.75" fill="#CD534C" />
<circle cx="549.50" cy="224.00" r="1.75" fill="#0073C2" />
<circle cx="559.90" cy="224.40" r="1.75" fill="#0073C2" />
<circle cx="580.90" cy="224.00" r="1.75" fill="#868686" />
<circle cx="582.20" cy="227.30" r="1.75" fill="#CD534C" />
<circle cx="591.30" cy="228.20" r="1.75" fill="#CD534C" />
<circle cx="598.50" cy="229.40" r="1.75" fill="#EFC000" />
<circle cx="605.80" cy="228.00" r="1.75" fill="#EFC000" />
<circle cx="549.00" cy="230.40" r="1.75" fill="#0073C2" />
<circle cx="561.30" cy="230.40" r="1.75" fill="#0073C2" />
<circle cx="578.60" cy="230.40" r="1.75" fill="#CD534C" />
<circle cx="557.70" cy="233.10" r="1.75" fill="#CD534C" />
<circle cx="549.80" cy="224.10" r="1.75" fill="#0073C2" />
<circle cx="549.20" cy="230.30" r="1.75" fill="#0073C2" />
<circle cx="557.90" cy="233.00" r="1.75" fill="#CD534C" />
<circle cx="561.20" cy="230.30" r="1.75" fill="#0073C2" />
<circle cx="560.10" cy="224.90" r="1.75" fill="#0073C2" />
<circle cx="567.40" cy="222.70" r="1.75" fill="#0073C2" />
<circle cx="571.00" cy="221.40" r="1.75" fill="#868686" />
<circle cx="581.00" cy="224.10" r="1.75" fill="#868686" />
<circle cx="581.80" cy="226.80" r="1.75" fill="#CD534C" />
<circle cx="578.30" cy="230.30" r="1.75" fill="#CD534C" />
<circle cx="591.10" cy="228.20" r="1.75" fill="#CD534C" />
<circle cx="597.30" cy="223.30" r="1.75" fill="#CD534C" />
<circle cx="611.70" cy="222.70" r="1.75" fill="#CD534C" />
<circle cx="619.10" cy="223.30" r="1.75" fill="#7AA6DC" />
<circle cx="598.70" cy="230.30" r="1.75" fill="#EFC000" />
<circle cx="600.00" cy="228.70" r="1.75" fill="#EFC000" />
<circle cx="605.50" cy="227.60" r="1.75" fill="#EFC000" />
<circle cx="626.70" cy="237.70" r="1.75" fill="#EFC000" />
<circle cx="563.40" cy="236.80" r="1.75" fill="#0073C2" />
<circle cx="567.40" cy="237.70" r="1.75" fill="#0073C2" />
<circle cx="568.80" cy="240.40" r="1.75" fill="#CD534C" />
<circle cx="563.40" cy="240.40" r="1.75" fill="#0073C2" />
<circle cx="582.90" cy="238.50" r="1.75" fill="#0073C2" />
<circle cx="588.40" cy="238.50" r="1.75" fill="#CD534C" />
<circle cx="589.20" cy="241.20" r="1.75" fill="#CD534C" />
<circle cx="582.90" cy="243.10" r="1.75" fill="#0073C2" />
<circle cx="591.90" cy="243.60" r="1.75" fill="#7AA6DC" />
<circle cx="597.30" cy="243.60" r="1.75" fill="#7AA6DC" />
<circle cx="600.00" cy="245.80" r="1.75" fill="#EFC000" />
<circle cx="608.20" cy="246.60" r="1.75" fill="#7AA6DC" />
<circle cx="564.70" cy="245.00" r="1.75" fill="#7AA6DC" />
<circle cx="567.40" cy="245.80" r="1.75" fill="#CD534C" />
<circle cx="562.80" cy="249.30" r="1.75" fill="#0073C2" />
<circle cx="576.40" cy="253.20" r="1.75" fill="#CD534C" />
<circle cx="597.30" cy="260.20" r="1.75" fill="#EFC000" />
<circle cx="562.00" cy="281.10" r="1.75" fill="#0073C2" />
<circle cx="571.50" cy="281.10" r="1.75" fill="#0073C2" />
<circle cx="578.30" cy="281.10" r="1.75" fill="#0073C2" />
<circle cx="530.00" cy="184.00" r="1.75" fill="#7AA6DC" />
<circle cx="530.00" cy="185.50" r="1.75" fill="#7AA6DC" />
<circle cx="530.00" cy="187.00" r="1.75" fill="#7AA6DC" />
<circle cx="530.00" cy="188.50" r="1.75" fill="#7AA6DC" />
<circle cx="530.00" cy="190.00" r="1.75" fill="#7AA6DC" />
<circle cx="530.00" cy="191.50" r="1.75" fill="#7AA6DC" />
<circle cx="530.00" cy="193.00" r="1.75" fill="#7AA6DC" />
<circle cx="530.00" cy="194.50" r="1.75" fill="#7AA6DC" />
<circle cx="530.00" cy="196.00" r="1.75" fill="#7AA6DC" />
<circle cx="530.00" cy="197.50" r="1.75" fill="#7AA6DC" />
<circle cx="530.00" cy="199.00" r="1.75" fill="#7AA6DC" />
<circle cx="530.00" cy="200.50" r="1.75" fill="#7AA6DC" />
<circle cx="530.00" cy="202.00" r="1.75" fill="#7AA6DC" />
<circle cx="530.00" cy="203.50" r="1.75" fill="#7AA6DC" />
<circle cx="530.00" cy="205.00" r="1.75" fill="#7AA6DC" />
<circle cx="530.00" cy="206.50" r="1.75" fill="#7AA6DC" />
<circle cx="530.00" cy="208.00" r="1.75" fill="#7AA6DC" />
<circle cx="530.00" cy="209.50" r="1.75" fill="#7AA6DC" />
<circle cx="530.00" cy="211.00" r="1.75" fill="#7AA6DC" />
<circle cx="530.00" cy="212.50" r="1.75" fill="#7AA6DC" />
<circle cx="530.00" cy="214.00" r="1.75" fill="#7AA6DC" />
<circle cx="530.00" cy="215.50" r="1.75" fill="#7AA6DC" />
<circle cx="530.00" cy="217.00" r="1.75" fill="#7AA6DC" />
<circle cx="530.00" cy="218.50" r="1.75" fill="#7AA6DC" />
<circle cx="530.00" cy="220.00" r="1.75" fill="#7AA6DC" />
<circle cx="530.00" cy="221.50" r="1.75" fill="#7AA6DC" />
<circle cx="530.00" cy="223.00" r="1.75" fill="#7AA6DC" />
<circle cx="530.00" cy="224.50" r="1.75" fill="#7AA6DC" />
<circle cx="530.00" cy="226.00" r="1.75" fill="#7AA6DC" />
<circle cx="530.00" cy="227.50" r="1.75" fill="#7AA6DC" />
<circle cx="530.00" cy="229.00" r="1.75" fill="#7AA6DC" />
<circle cx="530.00" cy="230.50" r="1.75" fill="#7AA6DC" />
<circle cx="530.00" cy="232.00" r="1.75" fill="#7AA6DC" />
<circle cx="530.00" cy="233.50" r="1.75" fill="#7AA6DC" />
<circle cx="530.00" cy="235.00" r="1.75" fill="#7AA6DC" />
<circle cx="530.00" cy="236.50" r="1.75" fill="#7AA6DC" />
<circle cx="530.00" cy="238.00" r="1.75" fill="#7AA6DC" />
<circle cx="530.00" cy="239.50" r="1.75" fill="#7AA6DC" />
<circle cx="530.00" cy="241.00" r="1.75" fill="#7AA6DC" />
<circle cx="530.00" cy="242.50" r="1.75" fill="#7AA6DC" />
<circle cx="530.00" cy="244.00" r="1.75" fill="#7AA6DC" />
<circle cx="530.00" cy="245.50" r="1.75" fill="#7AA6DC" />
<circle cx="530.00" cy="247.00" r="1.75" fill="#7AA6DC" />
<circle cx="530.00" cy="248.50" r="1.75" fill="#7AA6DC" />
<circle cx="530.00" cy="250.00" r="1.75" fill="#7AA6DC" />
<circle cx="530.00" cy="251.50" r="1.75" fill="#7AA6DC" />
<circle cx="530.00" cy="253.00" r="1.75" fill="#7AA6DC" />
<circle cx="530.00" cy="254.50" r="1.75" fill="#7AA6DC" />
<circle cx="530.00" cy="256.00" r="1.75" fill="#7AA6DC" />
<circle cx="530.00" cy="257.50" r="1.75" fill="#7AA6DC" />
<circle cx="530.00" cy="259.00" r="1.75" fill="#7AA6DC" />
<circle cx="530.00" cy="260.50" r="1.75" fill="#7AA6DC" />
<circle cx="530.00" cy="262.00" r="1.75" fill="#7AA6DC" />
<circle cx="530.00" cy="263.50" r="1.75" fill="#7AA6DC" />
<circle cx="530.00" cy="265.00" r="1.75" fill="#7AA6DC" />
<circle cx="530.00" cy="266.50" r="1.75" fill="#7AA6DC" />
<circle cx="530.00" cy="268.00" r="1.75" fill="#7AA6DC" />
<circle cx="530.00" cy="269.50" r="1.75" fill="#7AA6DC" />
<circle cx="530.00" cy="271.00" r="1.75" fill="#7AA6DC" />
<circle cx="530.00" cy="272.50" r="1.75" fill="#7AA6DC" />
<circle cx="530.00" cy="274.00" r="1.75" fill="#7AA6DC" />
<circle cx="530.00" cy="275.50" r="1.75" fill="#7AA6DC" />
<circle cx="530.00" cy="277.00" r="1.75" fill="#7AA6DC" />
<circle cx="530.00" cy="278.50" r="1.75" fill="#7AA6DC" />
<circle cx="530.00" cy="280.00" r="1.75" fill="#7AA6DC" />
<circle cx="530.00" cy="281.50" r="1.75" fill="#7AA6DC" />
<circle cx="530.00" cy="179.30" r="1.75" fill="#CD534C" />
<circle cx="530.00" cy="189.70" r="1.75" fill="#EFC000" />
<circle cx="530.00" cy="269.50" r="1.75" fill="#CD534C" />
</g>
<rect x="530.00" y="175.10" width="101.70" height="106.00" fill="none" stroke="#7A7A7A" stroke-width="1.0" />
<line x1="527.90" y1="186.40" x2="529.80" y2="186.40" stroke="#333" stroke-width="0.8" />
<text x="525.60" y="189.00" font-size="7.78" fill="#4D4D4D" text-anchor="end" textLength="17.40" lengthAdjust="spacingAndGlyphs" >1e-01</text>
<line x1="527.90" y1="206.70" x2="529.80" y2="206.70" stroke="#333" stroke-width="0.8" />
<text x="525.60" y="209.30" font-size="7.78" fill="#4D4D4D" text-anchor="end" textLength="17.40" lengthAdjust="spacingAndGlyphs" >1e-02</text>
<line x1="527.90" y1="227.20" x2="529.80" y2="227.20" stroke="#333" stroke-width="0.8" />
<text x="525.60" y="229.80" font-size="7.78" fill="#4D4D4D" text-anchor="end" textLength="17.40" lengthAdjust="spacingAndGlyphs" >1e-03</text>
<line x1="527.90" y1="247.50" x2="529.80" y2="247.50" stroke="#333" stroke-width="0.8" />
<text x="525.60" y="250.10" font-size="7.78" fill="#4D4D4D" text-anchor="end" textLength="17.40" lengthAdjust="spacingAndGlyphs" >1e-04</text>
<line x1="527.90" y1="267.90" x2="529.80" y2="267.90" stroke="#333" stroke-width="0.8" />
<text x="525.60" y="270.50" font-size="7.78" fill="#4D4D4D" text-anchor="end" textLength="17.40" lengthAdjust="spacingAndGlyphs" >1e-05</text>
<line x1="540.50" y1="281.50" x2="540.50" y2="284.30" stroke="#333" stroke-width="0.8" />
<text x="540.50" y="290.70" font-size="7.78" fill="#4D4D4D" text-anchor="middle" textLength="16.10" lengthAdjust="spacingAndGlyphs" >0.001</text>
<line x1="573.60" y1="281.50" x2="573.60" y2="284.30" stroke="#333" stroke-width="0.8" />
<text x="573.60" y="290.70" font-size="7.78" fill="#4D4D4D" text-anchor="middle" textLength="16.10" lengthAdjust="spacingAndGlyphs" >0.010</text>
<line x1="606.70" y1="281.50" x2="606.70" y2="284.30" stroke="#333" stroke-width="0.8" />
<text x="606.70" y="290.70" font-size="7.78" fill="#4D4D4D" text-anchor="middle" textLength="16.10" lengthAdjust="spacingAndGlyphs" >0.100</text>
<text x="558.00" y="301.50" font-size="8.36" fill="#000" stroke="#000" stroke-width="0.07" textLength="44.00" lengthAdjust="spacingAndGlyphs" >RE (Rel. abd.)</text>
<text transform="translate(501.80,250.80) rotate(-90)" font-size="8.36" fill="#000" stroke="#000" stroke-width="0.07" textLength="43.60" lengthAdjust="spacingAndGlyphs" >FE (Rel. abd.)</text>
<text x="637.20" y="190.00" font-size="8.21" fill="#000" stroke="#000" stroke-width="0.07" textLength="23.20" lengthAdjust="spacingAndGlyphs" >Subject</text>
<circle cx="641.30" cy="199.90" r="1.75" fill="#0073C2" />
<text x="646.20" y="202.70" font-size="8.21" fill="#000" stroke="#000" stroke-width="0.07" textLength="8.20" lengthAdjust="spacingAndGlyphs" >P1</text>
<circle cx="641.30" cy="212.50" r="1.75" fill="#EFC000" />
<text x="646.20" y="215.30" font-size="8.21" fill="#000" stroke="#000" stroke-width="0.07" textLength="8.20" lengthAdjust="spacingAndGlyphs" >P2</text>
<circle cx="641.30" cy="225.10" r="1.75" fill="#868686" />
<text x="646.20" y="227.90" font-size="8.21" fill="#000" stroke="#000" stroke-width="0.07" textLength="8.20" lengthAdjust="spacingAndGlyphs" >P3</text>
<circle cx="641.30" cy="237.70" r="1.75" fill="#CD534C" />
<text x="646.20" y="240.50" font-size="8.21" fill="#000" stroke="#000" stroke-width="0.07" textLength="8.20" lengthAdjust="spacingAndGlyphs" >P4</text>
<circle cx="641.30" cy="250.30" r="1.75" fill="#7AA6DC" />
<text x="646.20" y="253.10" font-size="8.21" fill="#000" stroke="#000" stroke-width="0.07" textLength="8.20" lengthAdjust="spacingAndGlyphs" >P5</text>
</svg>
</body></html>
